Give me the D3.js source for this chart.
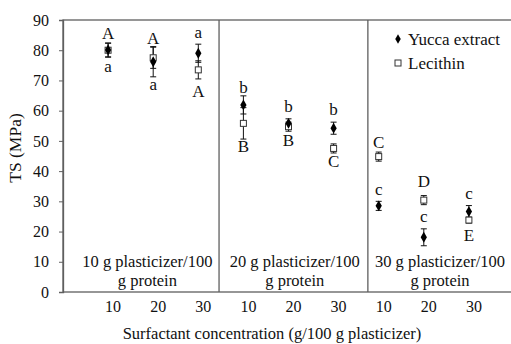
<!DOCTYPE html>
<html>
<head>
  <meta charset="utf-8">
  <title>TS chart</title>
  <script src="https://d3js.org/d3.v7.min.js"></script>
</head>
<body style="margin:0; background:#fff">
<div id="chart"></div>
<script>
// categories (surfactant concentration, repeated per plasticizer level)
var categories = ["10", "20", "30", "10", "20", "30", "10", "20", "30"];
var groups = ["10 g plasticizer/100", "20 g plasticizer/100", "30 g plasticizer/100"];
var groupPos = [1.87, 5.14, 8.36];
var separators = [3.46, 6.76];

var yucca    = [80.1, 76.2, 79.0, 61.9, 55.8, 54.2, 28.5, 18.1, 26.6];
var yuccaErr = [2.3, 5.0, 3.0, 3.0, 1.5, 2.0, 1.5, 2.8, 2.0];
var lecithin    = [80.0, 77.5, 73.5, 55.8, 54.7, 47.5, 44.8, 30.4, 23.8];
var lecithinErr = [2.3, 3.5, 3.0, 5.2, 1.5, 1.5, 1.5, 1.5, 1.0];

// significance letters and where they sit (value units)
var yuccaLetters   = ["a", "a", "a", "b", "b", "b", "c", "c", "c"];
var yuccaLetterY   = [72.9, 66.8, 84.0, 65.9, 59.7, 58.6, 32.1, 23.3, 30.7];
var lecLetters     = ["A", "A", "A", "B", "B", "C", "C", "D", "E"];
var lecLetterY     = [83.7, 82.0, 64.6, 46.4, 48.4, 41.3, 47.6, 34.8, 17.0];

var yTicks = [0, 10, 20, 30, 40, 50, 60, 70, 80, 90];

var FONT = "'Liberation Serif'";
var W = 511, H = 344;
var svg = d3.select("#chart").append("svg").attr("width", W).attr("height", H);

var x = d3.scaleLinear().domain([0, 10]).range([63, 514]);
var y = d3.scaleLinear().domain([0, 90]).range([292, 20]);

var axisCol = "#5f5f5f";

function txt(sel, size) {
  return sel.style("font-family", FONT).style("font-size", size + "px").attr("fill", "#111");
}

// frame
svg.append("rect")
  .attr("x", x(0)).attr("y", y(90))
  .attr("width", x(10) - x(0)).attr("height", y(0) - y(90))
  .attr("fill", "none").attr("stroke", axisCol).attr("stroke-width", 1.3);

svg.selectAll("line.sep").data(separators).enter().append("line")
  .attr("class", "sep")
  .attr("x1", d => x(d)).attr("x2", d => x(d))
  .attr("y1", y(90)).attr("y2", y(0))
  .attr("stroke", axisCol).attr("stroke-width", 1.3);

// y axis
var yAxis = svg.append("g").attr("transform", "translate(" + x(0) + ",0)")
  .call(d3.axisLeft(y).tickValues(yTicks).tickSize(4).tickPadding(10));
yAxis.attr("font-family", null).attr("font-size", null);
yAxis.select(".domain").attr("stroke", axisCol).attr("stroke-width", 1.3);
yAxis.selectAll(".tick line").attr("stroke", axisCol);
txt(yAxis.selectAll(".tick text"), 16);

// x tick labels
txt(svg.selectAll("text.xt").data(categories).enter().append("text")
  .attr("class", "xt")
  .attr("x", (d, i) => x(i + 1) + 5).attr("y", 312)
  .attr("text-anchor", "middle"), 16)
  .text(d => d);

// axis titles
txt(svg.append("text")
  .attr("x", 272).attr("y", 339).attr("text-anchor", "middle"), 16.5)
  .text("Surfactant concentration (g/100 g plasticizer)");
txt(svg.append("text")
  .attr("transform", "translate(21,148) rotate(-90)")
  .attr("text-anchor", "middle"), 17.5)
  .text("TS (MPa)");

// group labels
var gl = txt(svg.selectAll("text.gl").data(groups).enter().append("text")
  .attr("class", "gl").attr("text-anchor", "middle"), 16.5);
gl.append("tspan").attr("x", (d, i) => x(groupPos[i])).attr("y", 267).text(d => d);
gl.append("tspan").attr("x", (d, i) => x(groupPos[i])).attr("y", 286).text("g protein");

// error bars
function errBars(vals, errs, cls) {
  var g = svg.append("g").attr("class", cls);
  vals.forEach(function(v, i) {
    var cx = x(i + 1), lo = y(v - errs[i]), hi = y(v + errs[i]);
    g.append("line").attr("x1", cx).attr("x2", cx).attr("y1", lo).attr("y2", hi)
      .attr("stroke", "#111").attr("stroke-width", 1);
    [lo, hi].forEach(function(yy) {
      g.append("line").attr("x1", cx - 3).attr("x2", cx + 3).attr("y1", yy).attr("y2", yy)
        .attr("stroke", "#111").attr("stroke-width", 1);
    });
  });
}
errBars(lecithin, lecithinErr, "eb-lec");
errBars(yucca, yuccaErr, "eb-yuc");

// markers
svg.selectAll("rect.lec").data(lecithin).enter().append("rect")
  .attr("class", "lec")
  .attr("x", (d, i) => x(i + 1) - 3).attr("y", d => y(d) - 3)
  .attr("width", 6).attr("height", 6)
  .attr("fill", "#fff").attr("stroke", "#333").attr("stroke-width", 1);

var diamond = d3.symbol().type(d3.symbolDiamond).size(34);
svg.selectAll("path.yuc").data(yucca).enter().append("path")
  .attr("class", "yuc")
  .attr("transform", (d, i) => "translate(" + x(i + 1) + "," + y(d) + ")")
  .attr("d", diamond).attr("fill", "#000");

// letters
txt(svg.selectAll("text.yl").data(yuccaLetters).enter().append("text")
  .attr("class", "yl")
  .attr("x", (d, i) => x(i + 1)).attr("y", (d, i) => y(yuccaLetterY[i]))
  .attr("text-anchor", "middle"), 17)
  .text(d => d);
txt(svg.selectAll("text.ll").data(lecLetters).enter().append("text")
  .attr("class", "ll")
  .attr("x", (d, i) => x(i + 1)).attr("y", (d, i) => y(lecLetterY[i]))
  .attr("text-anchor", "middle"), 17)
  .text(d => d);

// legend
var lg = svg.append("g");
lg.append("path").attr("transform", "translate(398,39)")
  .attr("d", d3.symbol().type(d3.symbolDiamond).size(26)).attr("fill", "#000");
txt(lg.append("text").attr("x", 408).attr("y", 45), 17).text("Yucca extract");
lg.append("rect").attr("x", 395).attr("y", 60).attr("width", 6).attr("height", 6)
  .attr("fill", "#fff").attr("stroke", "#333");
txt(lg.append("text").attr("x", 408).attr("y", 69), 17).text("Lecithin");
</script>
</body>
</html>
